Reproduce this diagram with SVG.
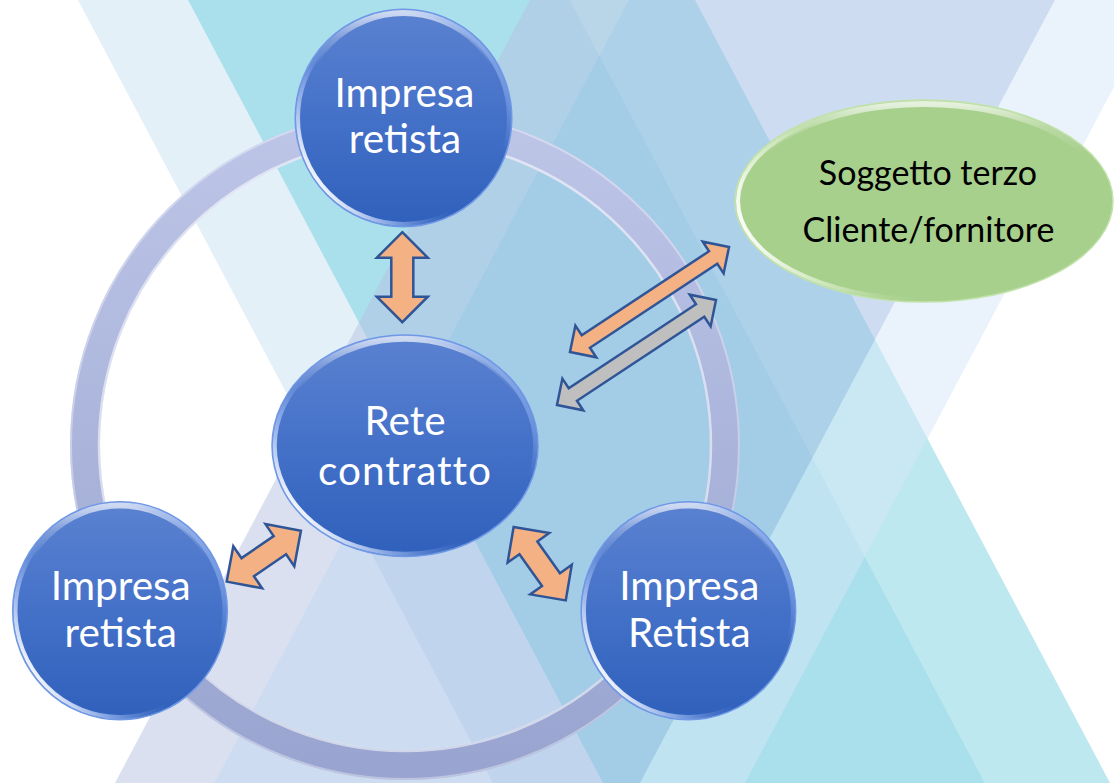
<svg xmlns="http://www.w3.org/2000/svg" xmlns:xlink="http://www.w3.org/1999/xlink" width="1114" height="783" viewBox="0 0 1114 783">
<style>
.nt{fill:#ffffff;font-family:Lato,"Open Sans","Liberation Sans",sans-serif;font-size:40.5px;text-anchor:middle}
.gt{fill:#000000;font-family:Lato,"Open Sans","Liberation Sans",sans-serif;font-size:34px;text-anchor:middle}
.bg{opacity:0.5}
.orange{fill:#f4b183;stroke:#2f5597;stroke-width:2.5;stroke-linejoin:miter}
.gray{fill:#bfbfbf;stroke:#2f5597;stroke-width:2.5;stroke-linejoin:miter}
.body{fill:url(#blueGrad);stroke:#6f98e6;stroke-width:1.5}
.toprim{fill:none;stroke:url(#topRimGrad);stroke-width:6}
.rim{fill:none;stroke:url(#rimGrad);stroke-width:4}
</style>
<defs>
<linearGradient id="blueGrad" x1="0" y1="0" x2="0" y2="1">
<stop offset="0" stop-color="#5b82d1"/>
<stop offset="0.5" stop-color="#4471c8"/>
<stop offset="1" stop-color="#2f60bb"/>
</linearGradient>
<linearGradient id="topRimGrad" x1="0" y1="0" x2="0" y2="1">
<stop offset="0" stop-color="#ffffff" stop-opacity="0.7"/>
<stop offset="0.12" stop-color="#ffffff" stop-opacity="0.25"/>
<stop offset="0.25" stop-color="#ffffff" stop-opacity="0"/>
</linearGradient>
<linearGradient id="rimGrad" x1="0" y1="0.85" x2="1" y2="0.15">
<stop offset="0.08" stop-color="#ffffff" stop-opacity="0.95"/>
<stop offset="0.25" stop-color="#bcd2ff" stop-opacity="0.5"/>
<stop offset="0.45" stop-color="#5f88d8" stop-opacity="0"/>
<stop offset="0.75" stop-color="#8fb2f2" stop-opacity="0"/>
<stop offset="0.95" stop-color="#9dbcf5" stop-opacity="0.7"/>
</linearGradient>
<linearGradient id="greenTop" x1="0" y1="0" x2="0" y2="1">
<stop offset="0" stop-color="#ffffff" stop-opacity="0.7"/>
<stop offset="0.12" stop-color="#ffffff" stop-opacity="0.2"/>
<stop offset="0.25" stop-color="#ffffff" stop-opacity="0"/>
</linearGradient>
<linearGradient id="greenRim" x1="0" y1="0.6" x2="1" y2="0.4">
<stop offset="0" stop-color="#ffffff" stop-opacity="0.95"/>
<stop offset="0.2" stop-color="#e4f4d6" stop-opacity="0.5"/>
<stop offset="0.4" stop-color="#a9d18e" stop-opacity="0"/>
</linearGradient>
<linearGradient id="ringGrad" x1="0" y1="0" x2="0" y2="1">
<stop offset="0" stop-color="#bdc5e7"/>
<stop offset="1" stop-color="#99a5d0"/>
</linearGradient>
<path id="arrowBig" d="M -45,0 L -19.5,-25.5 L -19.5,-11 L 19.5,-11 L 19.5,-25.5 L 45,0 L 19.5,25.5 L 19.5,11 L -19.5,11 L -19.5,25.5 Z"/>
<path id="arrowLong" d="M -95.25,0 L -76.25,-19 L -76.25,-7.5 L 76.25,-7.5 L 76.25,-19 L 95.25,0 L 76.25,19 L 76.25,7.5 L -76.25,7.5 L -76.25,19 Z"/>
</defs>

<g id="background">
<rect x="0" y="0" width="1114" height="783" fill="#ffffff"/>
<polygon class="bg" fill="#c9e2f2" points="78,0 188,0 603,783 493,783"/>
<polygon class="bg" fill="#55bfd9" points="188,0 570,0 985,783 603,783"/>
<polygon class="bg" fill="#7bd1e0" points="570,0 695,0 1110,783 985,783"/>
<polygon class="bg" fill="#b5c1e1" points="530,0 629,0 214,783 115,783"/>
<polygon class="bg" fill="#9bb9e1" points="629,0 1055,0 640,783 214,783"/>
<polygon class="bg" fill="#d5e7f7" points="1055,0 1160,0 745,783 640,783"/>
</g>

<g id="ring">
<circle cx="405" cy="445" r="320" fill="none" stroke="url(#ringGrad)" stroke-width="30"/>
<circle cx="405" cy="445" r="306" fill="none" stroke="#ffffff" stroke-opacity="0.55" stroke-width="2.5"/>
<circle cx="405" cy="445" r="334" fill="none" stroke="#ffffff" stroke-opacity="0.35" stroke-width="2"/>
</g>

<g id="connectors">
<use xlink:href="#arrowBig" class="orange" transform="translate(402.3,277.2) rotate(90)"/>
<use xlink:href="#arrowBig" class="orange" transform="translate(263.8,556.2) rotate(-34.4)"/>
<use xlink:href="#arrowBig" class="orange" transform="translate(539.7,563.7) rotate(54.6)"/>
<use xlink:href="#arrowLong" class="orange" transform="translate(649.5,299.5) rotate(-33.4)"/>
<use xlink:href="#arrowLong" class="gray" transform="translate(636.5,352.5) rotate(-33.4)"/>
</g>

<g id="node-top">
<ellipse class="body" cx="403.5" cy="118" rx="108.3" ry="108.7"/>
<ellipse class="toprim" cx="403.5" cy="118" rx="104.5" ry="104.9"/>
<ellipse class="rim" cx="403.5" cy="118" rx="105.5" ry="105.9"/>
<text class="nt" x="404.5" y="107">Impresa</text>
<text class="nt" x="405" y="153">retista</text>
</g>

<g id="node-center">
<ellipse class="body" cx="405" cy="445.8" rx="133" ry="110.8"/>
<ellipse class="toprim" cx="405" cy="445.8" rx="129.2" ry="107"/>
<ellipse class="rim" cx="405" cy="445.8" rx="130.2" ry="108"/>
<text class="nt" x="405" y="435">Rete</text>
<text class="nt" x="405" y="485" letter-spacing="1">contratto</text>
</g>

<g id="node-left">
<ellipse class="body" cx="120" cy="610.8" rx="107.3" ry="109"/>
<ellipse class="toprim" cx="120" cy="610.8" rx="103.5" ry="105.2"/>
<ellipse class="rim" cx="120" cy="610.8" rx="104.5" ry="106.2"/>
<text class="nt" x="120.7" y="600">Impresa</text>
<text class="nt" x="120.7" y="647">retista</text>
</g>

<g id="node-right">
<ellipse class="body" cx="688.4" cy="610.8" rx="107.3" ry="109"/>
<ellipse class="toprim" cx="688.4" cy="610.8" rx="103.5" ry="105.2"/>
<ellipse class="rim" cx="688.4" cy="610.8" rx="104.5" ry="106.2"/>
<text class="nt" x="689.3" y="600">Impresa</text>
<text class="nt" x="689.3" y="647">Retista</text>
</g>

<g id="node-third">
<ellipse cx="924" cy="201" rx="189" ry="101" fill="#a8d08d" stroke="#c2e2ab" stroke-width="1.5"/>
<ellipse cx="924" cy="201" rx="185" ry="97" fill="none" stroke="url(#greenTop)" stroke-width="6"/>
<ellipse cx="924" cy="201" rx="186" ry="98" fill="none" stroke="url(#greenRim)" stroke-width="4"/>
<text class="gt" x="928" y="185">Soggetto terzo</text>
<text class="gt" x="928.5" y="241.5">Cliente/fornitore</text>
</g>
</svg>
